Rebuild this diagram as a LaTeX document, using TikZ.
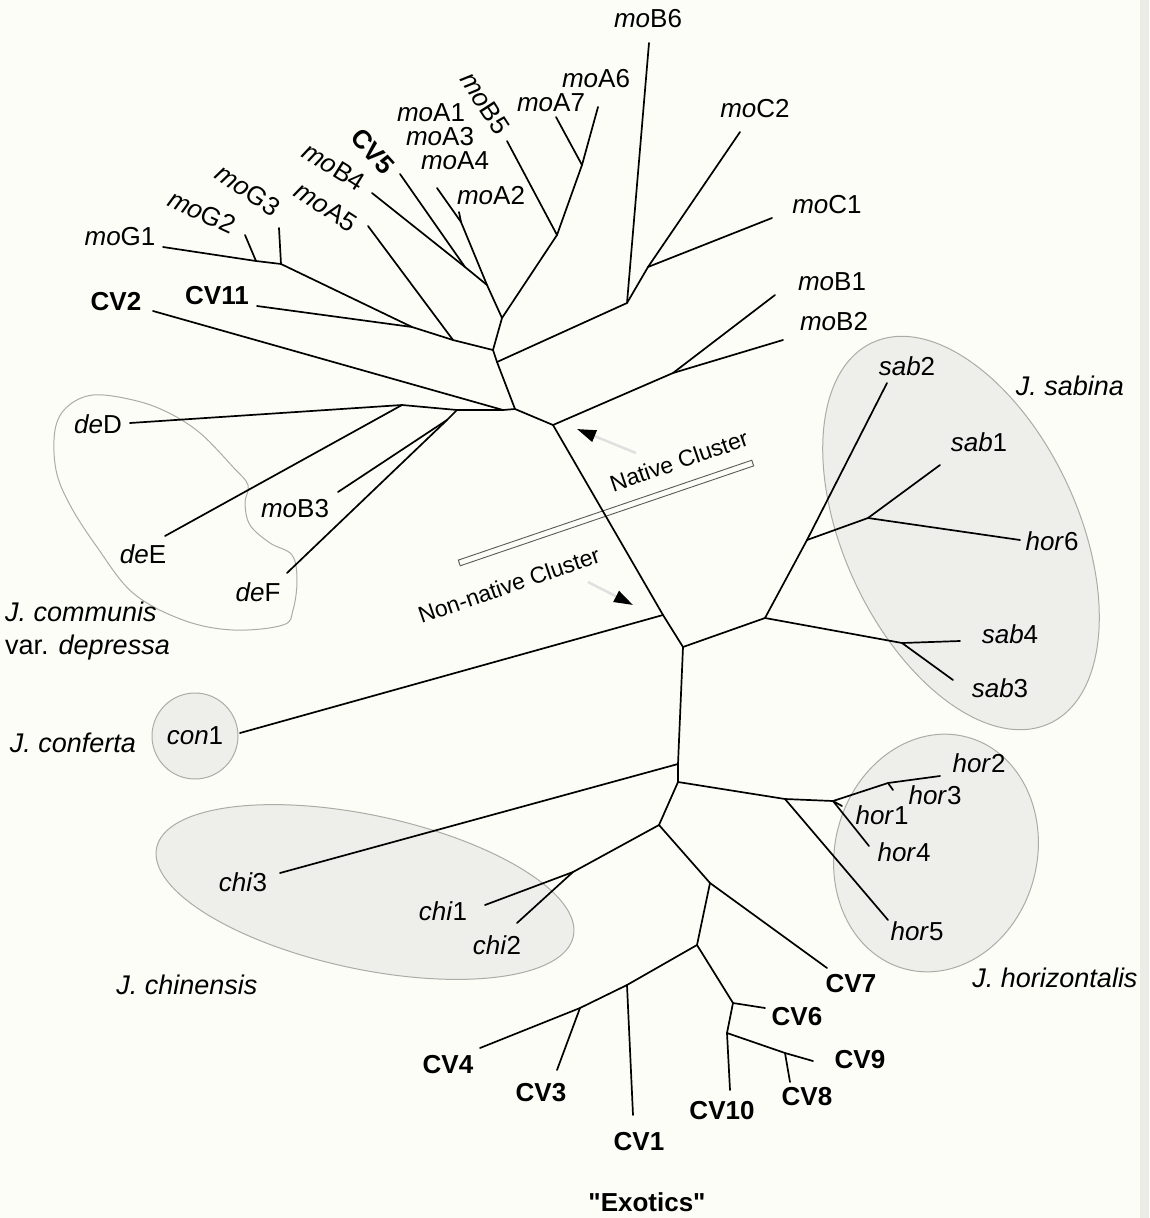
\documentclass[tikz,border=0pt]{standalone}
\usepackage{fontspec}
\setmainfont{Liberation Sans}[Ligatures=TeXOff]
\usepackage{xcolor}
\usetikzlibrary{arrows.meta}
\definecolor{pgpaper}{RGB}{253,253,247}
\definecolor{pgedge}{RGB}{236,236,231}
\definecolor{pgshade}{RGB}{238,238,234}
\definecolor{pgrim}{RGB}{172,172,167}
\tikzstyle{branch} = [line width=1.7pt, black, line cap=round, line join=round]
\tikzstyle{taxon} = [inner sep=0pt, font=\fontsize{26}{31}\selectfont]
\tikzstyle{cultivar} = [inner sep=0pt, font=\fontsize{26}{31}\selectfont\bfseries]
\tikzstyle{species} = [inner sep=0pt, font=\fontsize{27}{33}\selectfont\itshape]
\tikzstyle{clusternote} = [inner sep=0pt, font=\fontsize{23}{27}\selectfont, rotate=19]
\tikzstyle{cluster} = [draw=pgrim, fill=pgshade, line width=1pt]
\tikzstyle{divider} = [draw=black!65, line width=0.9pt, minimum width=310pt, minimum height=6pt, inner sep=0pt, rotate=18.8]
\tikzstyle{pointer} = [draw=black!12, line width=2.5pt, -{Triangle[length=19pt,width=12pt,color=black]}]

\begin{document}
\begin{tikzpicture}[x=1pt, y=-1pt]
\useasboundingbox (0,0) rectangle (1149,1218);
\fill[pgpaper] (0,0) rectangle (1149,1218);
\fill[pgedge] (1140,0) rectangle (1149,1218);

% Species clusters
\draw[cluster, rotate around={-65:(961,533)}] (961,533) ellipse [x radius=210pt, y radius=117pt];
\draw[cluster, rotate around={75:(936,853)}] (936,853) ellipse [x radius=120pt, y radius=101pt];
\draw[cluster, rotate around={-12:(365,892)}] (365,892) ellipse [x radius=213pt, y radius=77pt];
\draw[cluster] (195,736) circle [radius=43pt];
\draw[cluster, fill=none] plot[smooth cycle, tension=0.6] coordinates {
  (93,395) (67,407) (55,430) (56,470) (70,505) (97,547) (133,593) (183,620)
  (233,630) (283,625) (293,610) (297,580) (292,555) (270,543) (250,525)
  (245,503) (248,485) (233,467) (200,433) (167,412) (133,400)};

% Native / non-native divide
\node[divider] (divide) at (606,513) {};
\node[clusternote] (native) at (679,461) {Native Cluster};
\node[clusternote] (nonnative) at (509,585) {Non-native Cluster};
\coordinate (natail) at (636,453);
\coordinate (nahead) at (577,429);
\coordinate (nntail) at (588,582);
\coordinate (nnhead) at (633,605);
\draw[pointer] (natail) -- (nahead);
\draw[pointer] (nntail) -- (nnhead);

% Junctions
\coordinate (nG12) at (256,261);
\coordinate (nG) at (281,264);
\coordinate (nGC) at (412,327);
\coordinate (nA5) at (453,340);
\coordinate (nL) at (493,350);
\coordinate (nA2) at (461,222);
\coordinate (nB4) at (465,267);
\coordinate (nAA) at (487,285);
\coordinate (nA67) at (582,165);
\coordinate (nB5) at (557,235);
\coordinate (nU) at (502,318);
\coordinate (nR) at (497,362);
\coordinate (nB6) at (627,303);
\coordinate (nC) at (648,267);
\coordinate (nX) at (515,409);
\coordinate (nCV2) at (503,410);
\coordinate (nDE) at (402,405);
\coordinate (nF) at (457,410);
\coordinate (nB3) at (447,420);
\coordinate (nY) at (553,425);
\coordinate (nB12) at (673,373);
\coordinate (ncon) at (663,615);
\coordinate (nZ) at (683,647);
\coordinate (nS) at (765,618);
\coordinate (nS2) at (807,540);
\coordinate (nS1) at (868,518);
\coordinate (nS34) at (902,643);
\coordinate (nchi3) at (678,764);
\coordinate (nH) at (678,782);
\coordinate (nH5) at (785,799);
\coordinate (nH1) at (833,801);
\coordinate (nH23) at (888,783);
\coordinate (nW) at (659,825);
\coordinate (nchi) at (573,872);
\coordinate (nCV7) at (710,883);
\coordinate (nE) at (697,945);
\coordinate (nCV1) at (627,985);
\coordinate (nCV3) at (580,1008);
\coordinate (nCV6) at (733,1003);
\coordinate (nCV10) at (727,1033);
\coordinate (nCV8) at (785,1053);

% Tips
\coordinate (tG1) at (163,247);
\coordinate (tG2) at (245,235);
\coordinate (tG3) at (279,228);
\coordinate (tCV11) at (257,306);
\coordinate (tCV2) at (153,311);
\coordinate (tA5) at (368,226);
\coordinate (tB4) at (372,193);
\coordinate (tCV5) at (400,174);
\coordinate (tA134) at (437,188);
\coordinate (tA2) at (459,212);
\coordinate (tB5) at (507,141);
\coordinate (tA7) at (556,117);
\coordinate (tA6) at (598,107);
\coordinate (tB6) at (649,43);
\coordinate (tC2) at (740,132);
\coordinate (tC1) at (772,218);
\coordinate (tB1) at (775,295);
\coordinate (tB2) at (783,340);
\coordinate (tD) at (130,423);
\coordinate (tE) at (165,536);
\coordinate (tB3) at (338,492);
\coordinate (tF) at (287,573);
\coordinate (tcon) at (240,733);
\coordinate (tchi3) at (280,873);
\coordinate (tchi1) at (485,905);
\coordinate (tchi2) at (517,923);
\coordinate (tsab2) at (887,383);
\coordinate (tsab1) at (940,465);
\coordinate (thor6) at (1020,540);
\coordinate (tsab4) at (960,641);
\coordinate (tsab3) at (953,680);
\coordinate (thor2) at (940,776);
\coordinate (thor3) at (893,790);
\coordinate (thor1) at (842,806);
\coordinate (thor4) at (869,846);
\coordinate (thor5) at (888,920);
\coordinate (tCV7) at (827,968);
\coordinate (tCV6) at (765,1008);
\coordinate (tCV9) at (813,1061);
\coordinate (tCV8) at (790,1082);
\coordinate (tCV10) at (730,1090);
\coordinate (tCV1) at (633,1115);
\coordinate (tCV3) at (557,1070);
\coordinate (tCV4) at (480,1048);

% Branches
\draw[branch] (tG1) -- (nG12) -- (nG) -- (nGC) -- (nA5) -- (nL) -- (nR) -- (nX) -- (nY)
  -- (ncon) -- (nZ) -- (nchi3) -- (nH) -- (nW) -- (nCV7) -- (nE) -- (nCV1) -- (nCV3) -- (tCV4);
\draw[branch] (tG2) -- (nG12);
\draw[branch] (tG3) -- (nG);
\draw[branch] (tCV11) -- (nGC);
\draw[branch] (tA5) -- (nA5);
\draw[branch] (nL) -- (nU) -- (nAA) -- (nB4) -- (tB4);
\draw[branch] (tCV5) -- (nB4);
\draw[branch] (nAA) -- (nA2) -- (tA134);
\draw[branch] (tA2) -- (nA2);
\draw[branch] (nU) -- (nB5) -- (nA67) -- (tA6);
\draw[branch] (tA7) -- (nA67);
\draw[branch] (tB5) -- (nB5);
\draw[branch] (nR) -- (nB6) -- (tB6);
\draw[branch] (nB6) -- (nC) -- (tC2);
\draw[branch] (nC) -- (tC1);
\draw[branch] (tCV2) -- (nCV2) -- (nX);
\draw[branch] (tD) -- (nDE) -- (nF) -- (nCV2);
\draw[branch] (tE) -- (nDE);
\draw[branch] (tF) -- (nB3) -- (nF);
\draw[branch] (tB3) -- (nB3);
\draw[branch] (nY) -- (nB12) -- (tB1);
\draw[branch] (nB12) -- (tB2);
\draw[branch] (tcon) -- (ncon);
\draw[branch] (nZ) -- (nS) -- (nS2) -- (tsab2);
\draw[branch] (nS2) -- (nS1) -- (tsab1);
\draw[branch] (nS1) -- (thor6);
\draw[branch] (nS) -- (nS34) -- (tsab4);
\draw[branch] (nS34) -- (tsab3);
\draw[branch] (tchi3) -- (nchi3);
\draw[branch] (nH) -- (nH5) -- (nH1) -- (nH23) -- (thor2);
\draw[branch] (nH23) -- (thor3);
\draw[branch] (nH1) -- (thor1);
\draw[branch] (nH1) -- (thor4);
\draw[branch] (nH5) -- (thor5);
\draw[branch] (nW) -- (nchi) -- (tchi1);
\draw[branch] (nchi) -- (tchi2);
\draw[branch] (nCV7) -- (tCV7);
\draw[branch] (nE) -- (nCV6) -- (tCV6);
\draw[branch] (nCV6) -- (nCV10) -- (tCV10);
\draw[branch] (nCV10) -- (nCV8) -- (tCV9);
\draw[branch] (nCV8) -- (tCV8);
\draw[branch] (nCV1) -- (tCV1);
\draw[branch] (nCV3) -- (tCV3);

% Tip labels
\node[taxon] (lG1) at (120,237) {\textit{mo}G1};
\node[taxon, rotate=-25] (lG2) at (202,212) {\textit{mo}G2};
\node[taxon, rotate=-35] (lG3) at (248,190) {\textit{mo}G3};
\node[taxon, rotate=-33] (lA5) at (326,207) {\textit{mo}A5};
\node[taxon, rotate=-32] (lB4) at (334,167) {\textit{mo}B4};
\node[cultivar, rotate=-48] (lCV5) at (373,151) {CV5};
\node[taxon] (lA1) at (431,113) {\textit{mo}A1};
\node[taxon] (lA3) at (440,137) {\textit{mo}A3};
\node[taxon] (lA4) at (455,161) {\textit{mo}A4};
\node[taxon] (lA2) at (491,196) {\textit{mo}A2};
\node[taxon, rotate=-57] (lB5) at (485,103) {\textit{mo}B5};
\node[taxon] (lA7) at (551,103) {\textit{mo}A7};
\node[taxon] (lA6) at (596,79) {\textit{mo}A6};
\node[taxon] (lB6) at (648,19) {\textit{mo}B6};
\node[taxon] (lC2) at (755,109) {\textit{mo}C2};
\node[taxon] (lC1) at (827,205) {\textit{mo}C1};
\node[taxon] (lB1) at (832,282) {\textit{mo}B1};
\node[taxon] (lB2) at (834,322) {\textit{mo}B2};
\node[cultivar] (lCV2) at (116,302) {CV2};
\node[cultivar] (lCV11) at (217,296) {CV11};
\node[taxon] (lD) at (98,424) {\textit{de}D};
\node[taxon] (lE) at (143,554) {\textit{de}E};
\node[taxon] (lB3) at (295,509) {\textit{mo}B3};
\node[taxon] (lF) at (258,592) {\textit{de}F};
\node[taxon] (lcon) at (195,736) {\textit{con}1};
\node[taxon] (lchi3) at (243,882) {\textit{chi}3};
\node[taxon] (lchi1) at (443,911) {\textit{chi}1};
\node[taxon] (lchi2) at (497,945) {\textit{chi}2};
\node[taxon] (lsab2) at (907,366) {\textit{sab}2};
\node[taxon] (lsab1) at (979,442) {\textit{sab}1};
\node[taxon] (lhor6) at (1052,541) {\textit{hor}6};
\node[taxon] (lsab4) at (1010,634) {\textit{sab}4};
\node[taxon] (lsab3) at (1000,688) {\textit{sab}3};
\node[taxon] (lhor2) at (979,763) {\textit{hor}2};
\node[taxon] (lhor3) at (935,795) {\textit{hor}3};
\node[taxon] (lhor1) at (882,815) {\textit{hor}1};
\node[taxon] (lhor4) at (904,852) {\textit{hor}4};
\node[taxon] (lhor5) at (917,931) {\textit{hor}5};
\node[cultivar] (lCV7) at (851,984) {CV7};
\node[cultivar] (lCV6) at (797,1017) {CV6};
\node[cultivar] (lCV9) at (860,1060) {CV9};
\node[cultivar] (lCV8) at (807,1097) {CV8};
\node[cultivar] (lCV10) at (722,1111) {CV10};
\node[cultivar] (lCV1) at (639,1142) {CV1};
\node[cultivar] (lCV3) at (541,1093) {CV3};
\node[cultivar] (lCV4) at (448,1065) {CV4};
\node[cultivar] (lexotics) at (647,1202) {"Exotics"};

% Species names
\node[species] (jsab) at (1070,386) {J. sabina};
\node[species] (jhor) at (1055,978) {J. horizontalis};
\node[species] (jchi) at (187,985) {J. chinensis};
\node[species] (jcon) at (73,743) {J. conferta};
\node[species, anchor=west, align=left] (jcom) at (5,631) {J. communis\\\upshape var. \itshape depressa};
\end{tikzpicture}
\end{document}
